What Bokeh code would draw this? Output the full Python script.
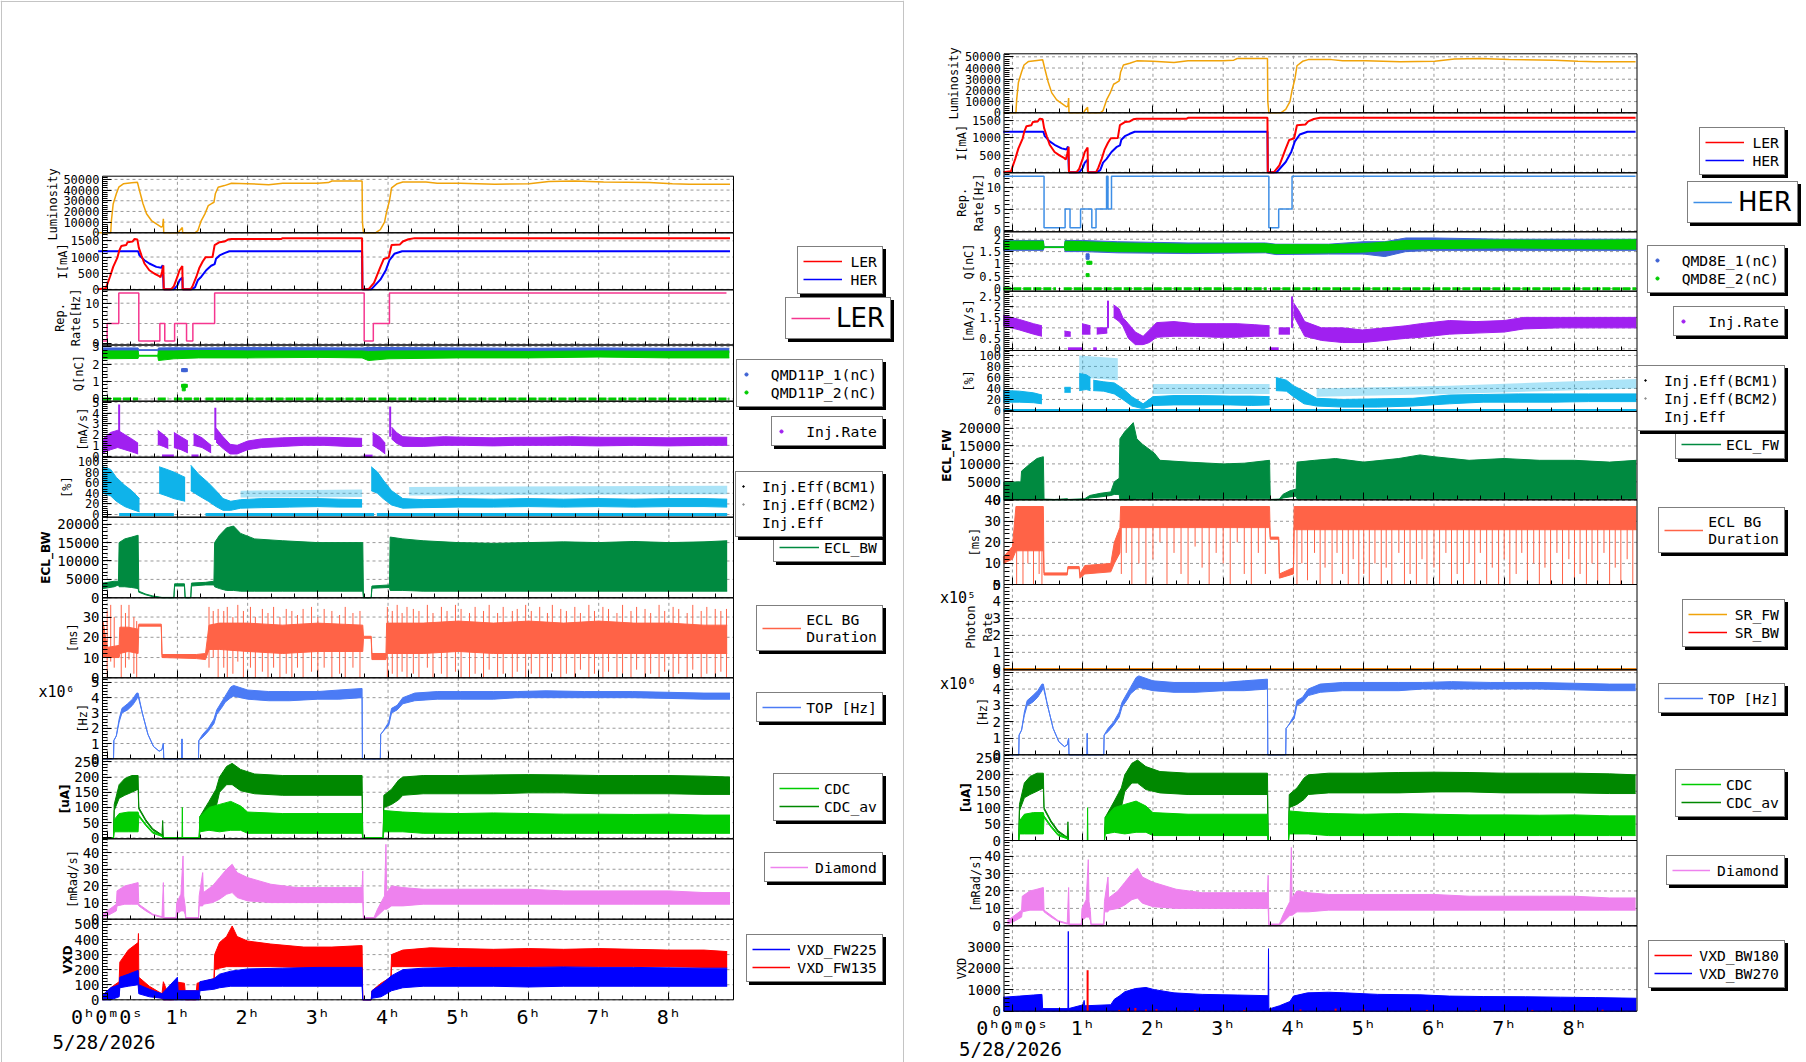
import math
from bokeh.plotting import figure
from bokeh.models import (Range1d, FixedTicker, CustomJSTickFormatter, Legend, LegendItem, Label, LinearAxis)
from bokeh.embed import file_html
from bokeh.resources import INLINE

# ------------------------------------------------------------------ data
# time in hours since 0h0m0s, 5/28/2026
DATE = "5/28/2026"
X_LEFT = (-0.067, 8.92)
X_RIGHT = (-0.12, 8.89)

# Luminosity (t, value)
LUM = [(-0.13, 0), (0.05, 0), (0.06, 11500), (0.085, 27000), (0.13, 36500), (0.165, 42700), (0.23, 45900),
       (0.35, 46800), (0.43, 47400), (0.46, 39600), (0.51, 27200), (0.56, 17800), (0.63, 11500), (0.70, 8400),
       (0.77, 5300), (0.79, 6000), (0.80, 13100), (0.805, 0), (1.01, 0), (1.03, 2000), (1.07, 5000), (1.075, 0),
       (1.25, 0), (1.29, 2000), (1.34, 11500), (1.39, 17500), (1.44, 25500), (1.48, 27000), (1.52, 28600),
       (1.54, 36500), (1.58, 42700), (1.67, 44200), (1.77, 46400), (2.0, 46000), (2.3, 45000), (2.5, 46500),
       (3.0, 46500), (3.15, 47000), (3.2, 48500), (3.63, 48500), (3.635, 10000), (3.65, 0), (3.82, 0),
       (3.89, 3000), (3.95, 10000), (3.98, 20000), (4.02, 30000), (4.05, 42000), (4.13, 46000), (4.21, 47500),
       (4.54, 47500), (4.70, 46500), (5.03, 46500), (5.52, 45500), (6.01, 46000), (6.29, 48000), (6.66, 48500),
       (7.07, 47500), (7.72, 47000), (8.05, 46000), (8.29, 45500), (8.87, 45500)]

# Beam currents I[mA] (t, value)
LER_I = [(-0.13, 0), (-0.02, 30), (0.04, 390), (0.085, 695), (0.145, 980), (0.17, 1190), (0.20, 1340),
         (0.27, 1370), (0.29, 1460), (0.36, 1480), (0.39, 1560), (0.43, 1540), (0.45, 1290), (0.49, 1040),
         (0.53, 800), (0.60, 590), (0.67, 490), (0.74, 410), (0.76, 370), (0.78, 540), (0.80, 740), (0.805, 0),
         (0.91, 0), (0.95, 100), (1.0, 390), (1.03, 590), (1.07, 720), (1.075, 0), (1.19, 0), (1.22, 120),
         (1.27, 390), (1.31, 650), (1.36, 860), (1.40, 990), (1.50, 1000), (1.53, 1370), (1.60, 1460),
         (1.67, 1480), (1.72, 1540), (1.77, 1560), (2.48, 1560), (2.5, 1585), (3.63, 1585), (3.635, 0),
         (3.72, 0), (3.80, 200), (3.89, 690), (3.94, 940), (4.01, 990), (4.05, 1370), (4.17, 1390),
         (4.21, 1480), (4.29, 1550), (4.38, 1585), (8.87, 1585)]
HER_I = [(-0.13, 1180), (0.44, 1180), (0.46, 1050), (0.53, 900), (0.60, 800), (0.70, 695), (0.77, 665),
         (0.79, 750), (0.805, 0), (0.95, 0), (1.0, 120), (1.03, 280), (1.07, 370), (1.075, 0), (1.20, 0),
         (1.25, 60), (1.29, 280), (1.34, 390), (1.41, 590), (1.48, 730), (1.53, 780), (1.55, 945),
         (1.60, 1050), (1.67, 1120), (1.74, 1180), (3.63, 1180), (3.635, 0), (3.76, 0), (3.89, 300),
         (3.97, 600), (4.02, 900), (4.09, 1100), (4.20, 1180), (8.87, 1180)]

# Injection repetition rate [Hz] (t, value), steps
REP_LER = [(-0.07, 0.7), (0.0, 5), (0.165, 12.5), (0.45, 0.7), (0.75, 5), (0.82, 0.7), (0.96, 5), (1.13, 0.7),
           (1.22, 5), (1.53, 12.5), (3.66, 0.7), (3.79, 5), (4.02, 12.5), (8.82, 12.5)]
REP_HER = [(-0.13, 12.5), (0.45, 0.7), (0.75, 5), (0.82, 0.7), (0.97, 5), (1.13, 0.7), (1.19, 5), (1.34, 12.5),
           (1.36, 5), (1.41, 12.5), (3.65, 0.7), (3.79, 5), (3.98, 12.5), (8.87, 12.5)]

# Bunch charge Q[nC] bands (t, low, high)
Q11P_1 = [(-0.06, 2.68, 2.92), (0.44, 2.70, 2.92), (0.45, 2.78, 2.82), (0.72, 2.78, 2.82), (0.73, 2.68, 2.92),
          (0.95, 2.70, 2.93), (1.3, 2.70, 2.92), (2.0, 2.72, 2.94), (3.0, 2.70, 2.93), (3.63, 2.70, 2.92),
          (3.72, 2.72, 2.95), (4.5, 2.70, 2.93), (6.0, 2.68, 2.90), (7.0, 2.70, 2.92), (8.0, 2.68, 2.90),
          (8.86, 2.65, 2.90)]
Q11P_2 = [(-0.06, 2.30, 2.75), (0.44, 2.32, 2.75), (0.45, 2.45, 2.50), (0.72, 2.45, 2.50), (0.73, 2.20, 2.75),
          (0.95, 2.30, 2.75), (1.3, 2.35, 2.78), (2.0, 2.35, 2.75), (3.0, 2.38, 2.75), (3.63, 2.35, 2.75),
          (3.72, 2.20, 2.72), (4.0, 2.30, 2.75), (5.0, 2.35, 2.75), (6.0, 2.35, 2.72), (7.0, 2.40, 2.75),
          (8.0, 2.35, 2.72), (8.86, 2.35, 2.75)]
Q11P_2_ZERO = [(-0.06, 0.44), (0.72, 0.87), (0.95, 1.31), (1.40, 3.64), (3.72, 8.86)]
Q11P_1_PTS = [(1.08, 1.65), (1.10, 1.65), (1.12, 1.65)]
Q11P_2_PTS = [(1.08, 0.75), (1.10, 0.75), (1.12, 0.75), (1.09, 0.55)]

Q8E_1 = [(-0.13, 1.55, 1.95), (0.44, 1.55, 1.95), (0.45, 1.66, 1.70), (0.74, 1.66, 1.70), (0.75, 1.50, 1.95),
         (1.0, 1.50, 1.95), (1.5, 1.45, 1.90), (2.5, 1.42, 1.85), (3.6, 1.45, 1.85), (3.75, 1.38, 1.80),
         (4.5, 1.40, 1.80), (5.0, 1.40, 1.90), (5.3, 1.30, 1.90), (5.6, 1.50, 2.05), (6.0, 1.55, 2.05),
         (7.0, 1.55, 2.00), (8.0, 1.55, 2.00), (8.88, 1.55, 2.00)]
Q8E_2 = [(-0.13, 1.60, 1.92), (0.44, 1.60, 1.92), (0.45, 1.67, 1.69), (0.74, 1.67, 1.69), (0.75, 1.55, 1.92),
         (1.0, 1.55, 1.90), (1.5, 1.50, 1.85), (2.5, 1.47, 1.80), (3.6, 1.48, 1.82), (3.75, 1.42, 1.78),
         (4.5, 1.45, 1.78), (5.0, 1.48, 1.82), (5.6, 1.60, 1.95), (6.0, 1.62, 1.95), (7.0, 1.65, 1.97),
         (8.0, 1.62, 1.95), (8.88, 1.60, 1.98)]
Q8E_2_ZERO = [(-0.13, 0.62), (0.73, 3.62), (3.70, 8.88)]
Q8E_1_PTS = [(1.07, 1.25), (1.07, 1.35)]
Q8E_2_PTS = [(1.08, 1.05), (1.11, 1.05), (1.07, 0.55)]

# Injection rate [mA/s] bands (t, low, high), None = gap
IR_LER = [(-0.06, 0.3, 1.6), (0.05, 0.6, 2.2), (0.15, 0.8, 2.4), (0.25, 0.6, 2.0), (0.35, 0.4, 1.6),
          (0.44, 0.2, 1.2), None,
          (0.72, 1.1, 2.4), (0.80, 0.9, 2.0), (0.87, 0.7, 1.6), None,
          (0.95, 0.8, 2.2), (1.05, 0.6, 1.8), (1.15, 0.3, 1.4), None,
          (1.23, 1.0, 2.1), (1.35, 0.8, 1.7), (1.48, 0.3, 1.0), None,
          (1.55, 1.3, 2.6), (1.65, 0.7, 1.8), (1.75, 0.2, 1.1), (1.85, 0.2, 1.0), (2.0, 0.6, 1.4),
          (2.2, 0.8, 1.6), (2.5, 0.9, 1.7), (2.8, 1.0, 1.75), (3.1, 1.0, 1.75), (3.4, 0.9, 1.7),
          (3.63, 0.9, 1.65), None,
          (3.78, 1.0, 2.2), (3.88, 0.6, 1.8), (3.96, 0.2, 1.2), None,
          (4.05, 1.6, 2.7), (4.12, 1.2, 2.2), (4.21, 0.9, 1.8), (4.5, 0.9, 1.7), (4.8, 1.0, 1.8),
          (5.1, 1.0, 1.75), (5.5, 0.95, 1.7), (5.8, 1.0, 1.75), (6.2, 1.0, 1.75), (6.6, 1.0, 1.8),
          (7.0, 0.95, 1.75), (7.5, 1.0, 1.75), (8.0, 0.95, 1.7), (8.5, 1.0, 1.75), (8.83, 1.0, 1.75)]
IR_LER_SPIKES = [(0.17, 1.5, 4.8), (1.54, 1.5, 4.5), (4.03, 1.8, 4.6)]
IR_LER_ZERO = [(0.78, 0.95), (1.20, 1.30), (3.65, 3.78)]

IR_HER = [(-0.13, 1.1, 1.6), (0.1, 0.9, 1.4), (0.3, 0.7, 1.2), (0.42, 0.6, 1.1), None,
          (0.74, 0.6, 0.85), (0.83, 0.6, 0.8), None,
          (0.99, 0.7, 1.2), (1.11, 0.7, 1.1), None,
          (1.20, 0.7, 1.0), (1.35, 0.75, 1.0), None,
          (1.44, 1.5, 2.1), (1.52, 1.3, 1.9), (1.57, 1.1, 1.5), (1.65, 0.5, 1.2), (1.75, 0.2, 0.8),
          (1.86, 0.2, 0.6), (1.95, 0.3, 0.9), (2.05, 0.55, 1.25), (2.3, 0.6, 1.3), (2.6, 0.6, 1.2),
          (2.9, 0.55, 1.2), (3.2, 0.55, 1.2), (3.45, 0.6, 1.15), (3.66, 0.6, 1.1), None,
          (3.79, 0.7, 1.0), (3.95, 0.7, 1.0), None,
          (4.0, 1.6, 2.2), (4.08, 1.1, 1.8), (4.16, 0.6, 1.3), (4.4, 0.4, 1.0), (4.7, 0.3, 1.0),
          (4.98, 0.3, 0.9), (5.3, 0.4, 1.0), (5.6, 0.5, 1.1), (5.81, 0.55, 1.2), (6.22, 0.7, 1.35),
          (6.6, 0.75, 1.3), (7.0, 0.8, 1.35), (7.28, 0.95, 1.5), (7.8, 1.0, 1.5), (8.3, 1.0, 1.5),
          (8.88, 1.0, 1.5)]
IR_HER_SPIKES = [(1.36, 1.0, 2.3), (3.98, 1.0, 2.5)]
IR_HER_ZERO = [(0.79, 0.99), (1.15, 1.20), (3.66, 3.79)]

# Injection efficiency [%] bands (t, low, high)
IE_LER = [(-0.06, 40, 90), (0.05, 35, 85), (0.13, 25, 70), (0.25, 15, 55), (0.35, 10, 45), (0.46, 5, 30), None,
          (0.74, 40, 90), (0.85, 35, 85), (0.95, 30, 80), (1.11, 25, 70), None,
          (1.19, 45, 93), (1.31, 35, 75), (1.44, 25, 60), (1.55, 15, 45), (1.65, 8, 30), (1.76, 8, 25),
          (1.9, 12, 28), (2.2, 13, 30), (2.6, 14, 30), (3.0, 15, 30), (3.3, 14, 29), (3.63, 14, 28), None,
          (3.76, 45, 90), (3.85, 40, 80), (3.93, 30, 65), (4.05, 18, 45), (4.21, 12, 30), (4.5, 13, 28),
          (5.0, 14, 30), (5.5, 14, 29), (6.0, 15, 30), (6.5, 14, 29), (7.0, 15, 30), (7.5, 14, 29),
          (8.0, 15, 30), (8.5, 15, 30), (8.83, 14, 29)]
IE_LER_SPARSE = [(1.9, 32, 45), (3.63, 33, 47), None, (4.3, 36, 52), (8.83, 38, 54)]
IE_LER_ZERO = [(0.17, 0.95), (1.40, 3.80), (3.84, 8.83)]

IE_HER = [(-0.13, 15, 36), (0.1, 15, 35), (0.3, 14, 32), (0.42, 12, 28), None,
          (0.74, 33, 42), (0.83, 33, 42), None,
          (0.95, 36, 67), (1.05, 38, 65), (1.11, 36, 60), None,
          (1.15, 36, 55), (1.3, 35, 52), (1.45, 30, 50), (1.57, 20, 40), (1.7, 8, 25), (1.86, 3, 12),
          (2.0, 9, 25), (2.3, 10, 27), (2.7, 10, 27), (3.1, 10, 26), (3.4, 9, 26), (3.66, 10, 25), None,
          (3.75, 36, 60), (3.9, 35, 55), (4.0, 25, 45), (4.15, 12, 35), (4.33, 8, 22), (4.7, 6, 20),
          (5.2, 6, 21), (5.7, 8, 22), (6.22, 12, 28), (6.7, 15, 29), (7.2, 15, 30), (7.7, 15, 30),
          (8.2, 16, 30), (8.88, 16, 30)]
IE_HER_SPARSE = [(0.95, 60, 100), (1.5, 55, 95), None, (2.0, 30, 48), (3.66, 30, 48), None,
                 (4.33, 25, 40), (6.22, 30, 45), (8.88, 40, 57)]
IE_HER_ZERO = [(-0.13, 8.88)]

# ECL background (t, low, high)
ECL_BW = [(-0.06, 2500, 4000), (0.10, 3000, 4500), (0.16, 3500, 4500), (0.17, 3000, 15000), (0.25, 3000, 16000),
          (0.35, 2800, 16500), (0.44, 2500, 17000), (0.45, 1500, 1800), (0.55, 800, 1000), (0.65, 300, 500),
          (0.78, 0, 100), (0.95, 0, 100), (0.96, 3200, 3800), (1.10, 3200, 3800), (1.11, 0, 100), (1.19, 0, 100),
          (1.20, 3200, 4000), (1.40, 3500, 4200), (1.52, 3500, 4500), (1.53, 3000, 15000), (1.60, 2500, 17000),
          (1.70, 2000, 19000), (1.80, 2000, 19500), (1.90, 1800, 17500), (2.10, 1800, 16000), (2.50, 1800, 15500),
          (3.00, 1800, 15000), (3.64, 1800, 15000), (3.65, 0, 50), (3.76, 0, 50), (3.77, 2600, 3200),
          (4.02, 2800, 3500), (4.03, 2000, 16500), (4.21, 2000, 16000), (4.50, 1800, 15500), (5.00, 1800, 15000),
          (5.50, 1800, 14800), (6.00, 1800, 15000), (6.50, 1800, 15200), (7.00, 1800, 15000), (7.50, 1800, 15300),
          (8.00, 1800, 15000), (8.50, 1800, 15200), (8.83, 1800, 15500)]
ECL_FW = [(-0.13, 0, 4900), (0.12, 0, 5000), (0.13, 0, 8000), (0.25, 0, 10000), (0.35, 0, 11500), (0.44, 0, 12000),
          (0.45, 0, 200), (0.60, 0, 100), (0.78, 0, 300), (0.80, 0, 100), (1.03, 0, 300), (1.10, 500, 1200),
          (1.25, 800, 1800), (1.40, 1200, 2200), (1.45, 1500, 5000), (1.52, 1500, 6000), (1.53, 0, 17000),
          (1.60, 0, 19000), (1.65, 0, 20000), (1.72, 0, 21500), (1.77, 300, 17000), (1.85, 300, 15500),
          (2.02, 400, 13000), (2.10, 400, 11000), (2.50, 400, 10500), (3.00, 400, 10000), (3.30, 400, 10200),
          (3.66, 400, 11000), (3.67, 0, 100), (3.80, 0, 200), (3.85, 500, 1500), (3.95, 800, 2500),
          (4.04, 1000, 3000), (4.05, 300, 10500), (4.30, 300, 11000), (4.60, 300, 11500), (5.00, 300, 10500),
          (5.50, 300, 11500), (5.80, 300, 12500), (6.00, 300, 12000), (6.50, 300, 11000), (7.00, 300, 11500),
          (7.50, 300, 11000), (8.00, 300, 11000), (8.50, 300, 10500), (8.88, 300, 11000)]

# ECL BG duration [ms]: dense core (t, low, high) and single excursions (t, low, high)
DUR_LER = [(-0.06, 10, 28), (0.0, 10, 15), (0.17, 10, 16), (0.18, 12, 25), (0.30, 13, 25), (0.44, 12, 24),
           (0.45, 25.5, 26.5), (0.77, 25.5, 26.5), (0.78, 10, 11.5), (1.27, 9.5, 11.5), (1.40, 9, 12),
           (1.45, 14, 26), (1.60, 14, 27), (2.0, 13, 27), (2.5, 12, 26), (3.0, 13, 27), (3.64, 13, 26),
           (3.65, 19.5, 20.5), (3.76, 19.5, 20.5), (3.77, 9, 12), (3.97, 9, 12), (3.98, 12, 27), (4.5, 12, 27),
           (5.0, 13, 28), (5.5, 12, 27), (6.0, 12, 28), (6.5, 12, 27), (7.0, 12, 28), (7.5, 12, 27),
           (8.0, 12, 27), (8.5, 12, 26), (8.83, 12, 26)]
DUR_LER_SPIKES = [(0.0, 0, 33), (0.05, 8, 36), (0.1, 5, 30), (0.2, 0, 36), (0.26, 5, 32), (0.31, 9, 36),
                  (0.38, 2, 30), (0.42, 0, 28), (1.45, 5, 35), (1.51, 10, 33), (1.58, 0, 34), (1.66, 5, 33),
                  (1.71, 0, 35), (1.79, 2, 30), (1.86, 8, 36), (1.94, 0, 33), (2.04, 5, 35), (2.11, 0, 30),
                  (2.21, 3, 34), (2.29, 0, 32), (2.37, 5, 35), (2.46, 0, 30), (2.55, 2, 34), (2.63, 0, 33),
                  (2.71, 5, 31), (2.79, 0, 34), (2.91, 3, 35), (3.0, 0, 30), (3.09, 5, 34), (3.2, 0, 33),
                  (3.31, 2, 31), (3.39, 0, 35), (3.5, 5, 32), (3.6, 0, 33), (3.99, 0, 35), (4.06, 2, 33),
                  (4.13, 0, 36), (4.2, 3, 32), (4.27, 0, 35), (4.36, 2, 34), (4.44, 0, 33), (4.56, 5, 36),
                  (4.64, 0, 32), (4.76, 2, 35), (4.84, 0, 33), (4.96, 3, 36), (5.04, 0, 34), (5.16, 0, 32),
                  (5.24, 2, 35), (5.36, 0, 33), (5.44, 4, 36), (5.56, 0, 32), (5.64, 2, 35), (5.77, 0, 33),
                  (5.84, 3, 34), (5.96, 0, 36), (6.04, 2, 33), (6.16, 0, 35), (6.27, 0, 32), (6.34, 3, 36),
                  (6.46, 0, 34), (6.54, 2, 33), (6.66, 0, 35), (6.74, 4, 32), (6.86, 0, 36), (6.94, 2, 33),
                  (7.06, 0, 35), (7.14, 3, 34), (7.26, 0, 32), (7.34, 2, 36), (7.46, 0, 33), (7.54, 4, 35),
                  (7.66, 0, 34), (7.74, 2, 32), (7.86, 0, 36), (7.94, 3, 33), (8.06, 0, 35), (8.14, 2, 34),
                  (8.26, 0, 32), (8.34, 4, 36), (8.46, 0, 33), (8.54, 2, 35), (8.66, 0, 34), (8.74, 3, 33),
                  (8.82, 0, 34)]
DUR_HER = [(-0.13, 10, 13), (0.0, 12, 18), (0.05, 16, 37), (0.44, 16, 37), (0.45, 4.5, 5.5), (0.78, 4.5, 5.5),
           (0.79, 7.5, 8.5), (0.95, 7.5, 8.5), (0.96, 3, 5), (1.03, 5, 9), (1.40, 6, 10), (1.45, 10, 20),
           (1.53, 15, 27), (1.54, 27, 37), (3.66, 27, 37), (3.67, 21.5, 22.5), (3.79, 21.5, 22.5), (3.80, 3, 5),
           (4.0, 5, 8), (4.01, 26, 37), (8.88, 26, 37)]
DUR_HER_SPIKES = [(0.06, 0, 37), (0.15, 0, 37), (0.22, 10, 37), (0.3, 0, 37), (0.38, 5, 37), (0.42, 0, 37),
                  (1.55, 5, 37), (1.62, 15, 37), (1.7, 0, 37), (1.8, 10, 37), (1.9, 0, 37), (2.0, 12, 37),
                  (2.1, 20, 37), (2.2, 0, 37), (2.3, 15, 37), (2.4, 5, 37), (2.5, 0, 37), (2.6, 18, 37),
                  (2.7, 8, 37), (2.8, 0, 37), (2.9, 15, 37), (3.0, 10, 37), (3.1, 0, 37), (3.2, 20, 37),
                  (3.3, 5, 37), (3.4, 0, 37), (3.5, 15, 37), (3.6, 5, 37), (4.05, 0, 37), (4.12, 10, 37),
                  (4.2, 2, 37), (4.3, 15, 37), (4.38, 0, 37), (4.45, 8, 37), (4.55, 0, 37), (4.62, 15, 37),
                  (4.7, 5, 37), (4.78, 0, 37), (4.85, 12, 37), (4.93, 0, 37), (5.0, 5, 37), (5.08, 0, 37),
                  (5.16, 10, 37), (5.25, 0, 37), (5.32, 8, 37), (5.4, 0, 37), (5.5, 15, 37), (5.58, 0, 37),
                  (5.66, 5, 37), (5.75, 0, 37), (5.83, 12, 37), (5.9, 0, 37), (6.0, 8, 37), (6.08, 0, 37),
                  (6.17, 15, 37), (6.25, 0, 37), (6.33, 5, 37), (6.42, 0, 37), (6.5, 10, 37), (6.58, 0, 37),
                  (6.66, 15, 37), (6.75, 0, 37), (6.83, 8, 37), (6.92, 0, 37), (7.0, 12, 37), (7.08, 0, 37),
                  (7.17, 5, 37), (7.25, 15, 37), (7.33, 0, 37), (7.42, 10, 37), (7.5, 0, 37), (7.58, 8, 37),
                  (7.66, 0, 37), (7.75, 15, 37), (7.83, 0, 37), (7.92, 12, 37), (8.0, 0, 37), (8.08, 5, 37),
                  (8.17, 0, 37), (8.25, 10, 37), (8.33, 0, 37), (8.42, 15, 37), (8.5, 0, 37), (8.58, 8, 37),
                  (8.66, 0, 37), (8.75, 12, 37), (8.83, 0, 37)]

# SR photon rate (x1e5)
SR_FW = [(-0.13, 0), (8.88, 0)]
SR_BW = [(-0.13, 0), (8.88, 0)]

# TOP rate (x1e6 Hz) band (t, low, high)
TOP = [(-0.07, 0, 0), (0.09, 0, 0), (0.095, 1.2, 1.2), (0.13, 1.5, 1.5), (0.17, 2.4, 2.6), (0.21, 3.0, 3.3),
       (0.29, 3.2, 3.6), (0.36, 3.5, 3.9), (0.42, 3.9, 4.3), (0.44, 4.1, 4.3), (0.50, 3.0, 3.0), (0.58, 1.6, 1.6),
       (0.66, 0.8, 0.8), (0.74, 0.5, 0.5), (0.78, 0.6, 0.6), (0.80, 1.0, 1.0), (0.805, 0, 0), (1.06, 0, 0),
       (1.065, 1.3, 1.3), (1.07, 0, 0), (1.30, 0, 0), (1.305, 1.2, 1.2), (1.36, 1.4, 1.6), (1.44, 1.8, 2.0),
       (1.52, 2.3, 2.6), (1.56, 2.9, 3.2), (1.64, 3.4, 3.8), (1.68, 3.7, 4.1), (1.76, 4.0, 4.7),
       (1.80, 4.1, 4.8), (2.0, 3.9, 4.5), (2.3, 3.8, 4.4), (2.6, 3.8, 4.4), (3.0, 3.9, 4.4), (3.3, 3.9, 4.5),
       (3.63, 4.0, 4.6), (3.635, 0, 0), (3.89, 0, 0), (3.895, 1.6, 1.6), (3.93, 1.8, 1.8), (4.01, 2.2, 2.4),
       (4.05, 3.0, 3.3), (4.13, 3.2, 3.5), (4.21, 3.6, 4.0), (4.38, 3.8, 4.3), (4.7, 3.9, 4.4),
       (5.03, 3.9, 4.4), (5.5, 3.9, 4.4), (5.84, 4.0, 4.4), (6.25, 4.0, 4.45), (6.8, 4.0, 4.4),
       (7.48, 4.0, 4.4), (8.0, 3.95, 4.35), (8.5, 3.9, 4.3), (8.87, 3.9, 4.3)]

# CDC current [uA] bands (t, low, high)
CDC_AV = [(-0.07, 0, 0), (0.09, 0, 0), (0.10, 90, 110), (0.17, 130, 175), (0.25, 140, 195), (0.35, 150, 205),
          (0.44, 160, 205), (0.45, 95, 100), (0.55, 55, 60), (0.65, 25, 30), (0.78, 8, 10), (0.79, 0, 57),
          (0.80, 0, 0), (1.31, 0, 0), (1.32, 40, 70), (1.45, 60, 120), (1.55, 100, 160), (1.60, 150, 200),
          (1.70, 175, 235), (1.78, 175, 245), (1.90, 155, 225), (2.10, 145, 210), (2.50, 140, 205),
          (3.00, 140, 205), (3.63, 140, 205), (3.64, 0, 0), (3.93, 0, 0), (3.94, 100, 140), (4.05, 110, 160),
          (4.15, 125, 190), (4.21, 140, 200), (4.50, 145, 205), (5.00, 145, 205), (5.50, 145, 207),
          (6.00, 148, 208), (6.50, 148, 207), (7.00, 145, 205), (7.50, 145, 205), (8.00, 145, 205),
          (8.50, 143, 203), (8.87, 143, 200)]
CDC = [(-0.07, 0, 0), (0.09, 0, 0), (0.10, 20, 60), (0.17, 20, 80), (0.30, 20, 85), (0.44, 20, 85),
       (0.45, 70, 75), (0.55, 40, 45), (0.65, 15, 20), (0.78, 5, 8), (0.80, 0, 0), (1.065, 0, 0), (1.07, 0, 100),
       (1.075, 0, 0), (1.31, 0, 0), (1.32, 20, 70), (1.45, 25, 100), (1.60, 20, 110), (1.76, 25, 120),
       (1.90, 25, 105), (2.00, 15, 85), (2.50, 15, 80), (3.00, 15, 80), (3.63, 15, 80), (3.64, 0, 0),
       (3.93, 0, 0), (3.94, 20, 90), (4.21, 20, 85), (4.50, 15, 82), (5.00, 15, 80), (5.50, 15, 82),
       (6.00, 15, 80), (6.50, 15, 78), (7.00, 15, 78), (7.50, 15, 77), (8.00, 15, 78), (8.50, 15, 75),
       (8.87, 15, 75)]

# Diamond dose rate [mRad/s] band (t, low, high)
DIAMOND = [(-0.07, 1, 3), (0.0, 2, 5), (0.13, 5, 9), (0.14, 8, 17), (0.25, 9, 20), (0.35, 9, 21), (0.44, 9, 22),
           (0.45, 8, 9), (0.55, 5, 6), (0.65, 2.5, 3), (0.78, 1, 1.5), (0.80, 1, 22), (0.81, 0, 1), (0.98, 0, 1),
           (0.99, 3, 10), (1.05, 5, 15), (1.08, 5, 38), (1.09, 5, 14), (1.11, 3, 8), (1.12, 0, 1), (1.30, 0, 1),
           (1.31, 8, 14), (1.36, 8, 28), (1.37, 9, 16), (1.50, 10, 20), (1.60, 12, 25), (1.70, 15, 30),
           (1.78, 16, 33), (1.85, 13, 28), (2.00, 11, 25), (2.33, 10, 21), (2.70, 10, 19), (3.20, 10, 19),
           (3.63, 10, 19), (3.64, 10, 29), (3.65, 0, 1), (3.80, 0, 1), (3.85, 2, 6), (3.95, 6, 14),
           (3.97, 6, 45), (3.98, 6, 16), (4.05, 8, 20), (4.21, 8, 19), (4.50, 9, 18), (5.00, 9, 18),
           (5.50, 9, 18), (6.00, 9, 18), (6.50, 9, 17), (7.00, 9, 17), (7.50, 9, 17), (8.00, 9, 17),
           (8.50, 9, 16), (8.87, 9, 16)]

# VXD dose (t, low, high)
VXD_FW135 = [(-0.07, 0, 20), (0.05, 10, 80), (0.17, 30, 120), (0.18, 130, 250), (0.30, 140, 330), (0.44, 150, 380),
             (0.445, 150, 440), (0.45, 60, 150), (0.60, 30, 90), (0.78, 10, 40), (0.80, 0, 120), (0.85, 0, 60),
             (0.95, 0, 30), (0.96, 40, 120), (1.10, 40, 110), (1.11, 0, 60), (1.27, 0, 60), (1.28, 60, 110),
             (1.52, 80, 140), (1.53, 200, 300), (1.60, 210, 380), (1.70, 220, 420), (1.78, 220, 490),
             (1.85, 220, 420), (2.00, 220, 390), (2.33, 220, 370), (2.80, 215, 350), (3.20, 215, 350),
             (3.63, 215, 360), (3.64, 0, 0), (3.76, 0, 0), (3.77, 20, 60), (3.90, 50, 110), (4.04, 90, 150),
             (4.05, 220, 300), (4.21, 220, 330), (4.60, 220, 345), (5.00, 220, 340), (5.50, 215, 335),
             (6.00, 220, 340), (6.50, 220, 335), (7.00, 220, 340), (7.50, 220, 335), (8.00, 220, 330),
             (8.50, 215, 330), (8.83, 215, 320)]
VXD_FW225 = [(-0.07, 0, 30), (0.05, 0, 80), (0.17, 20, 100), (0.18, 80, 150), (0.30, 90, 170), (0.44, 100, 195),
             (0.45, 40, 100), (0.60, 20, 70), (0.78, 10, 40), (0.80, 0, 50), (1.00, 0, 150), (1.01, 0, 60),
             (1.31, 0, 60), (1.32, 60, 120), (1.52, 70, 140), (1.60, 80, 170), (1.76, 90, 190), (2.00, 90, 205),
             (2.50, 90, 210), (3.00, 90, 215), (3.63, 90, 215), (3.64, 0, 0), (3.76, 0, 0), (3.77, 10, 60),
             (3.90, 20, 100), (4.05, 60, 160), (4.21, 80, 200), (4.50, 90, 210), (5.00, 90, 215), (5.50, 90, 215),
             (6.00, 85, 215), (6.50, 90, 218), (7.00, 90, 215), (7.50, 90, 215), (8.00, 90, 212), (8.50, 90, 210),
             (8.83, 90, 210)]
VXD_BW270 = [(-0.13, 0, 650), (0.10, 0, 700), (0.30, 0, 750), (0.42, 0, 780), (0.43, 0, 120), (0.79, 0, 120),
             (0.795, 0, 3700), (0.80, 0, 120), (1.01, 0, 300), (1.02, 0, 500), (1.03, 0, 250), (1.40, 0, 300),
             (1.45, 0, 550), (1.52, 0, 700), (1.60, 0, 900), (1.75, 0, 1050), (1.90, 0, 1100), (2.02, 0, 1000),
             (2.30, 0, 850), (2.70, 0, 780), (3.20, 0, 750), (3.64, 0, 720), (3.645, 0, 2900), (3.65, 0, 100),
             (3.80, 0, 250), (3.95, 0, 450), (4.00, 0, 700), (4.20, 0, 850), (4.50, 0, 880), (4.74, 0, 850),
             (5.20, 0, 780), (5.80, 0, 760), (6.22, 0, 700), (6.70, 0, 680), (7.30, 0, 670), (7.80, 0, 650),
             (8.30, 0, 630), (8.88, 0, 600)]
VXD_BW180 = [(1.07, 0, 1900), (1.52, 0, 60), (1.65, 0, 120), (1.75, 0, 150), (1.90, 0, 80), (2.05, 0, 100),
             (2.60, 0, 60), (3.30, 0, 60), (4.10, 0, 80), (4.60, 0, 120), (5.00, 0, 100), (5.90, 0, 60),
             (6.60, 0, 50), (7.40, 0, 60), (8.00, 0, 60), (8.40, 0, 70)]

# ------------------------------------------------------------------ style / layout
MONO = "DejaVu Sans Mono"
SANS = "DejaVu Sans"
NARROW = "Liberation Sans Narrow, DejaVu Sans"
ORANGE = "#f0a30a"
RED = "#ff0000"
BLUE = "#0000ff"
PINK = "#f5368f"
HERREP = "#3d8ee6"
QBLUE = "#3e62d4"
QGREEN = "#00cc00"
PURPLE = "#a020f0"
CYAN = "#0fb3ea"
ECLG = "#008a40"
TOMATO = "#ff6347"
TOPB = "#4b7bf5"
CDCL = "#00cc00"
CDCD = "#008800"
VIOLET = "#ee82ee"

W, H = 1806, 1062
COL_PX = {"L": (102.0, 733.0), "R": (1003.5, 1636.5)}
COL_T = {"L": X_LEFT, "R": X_RIGHT}
EDGES = {"L": [175.7, 232.3, 289.3, 344.5, 400.7, 456.7, 516.7, 597.3, 677.3, 758.3, 838.3, 918.7, 999.3],
         "R": [53.3, 112.3, 172.3, 231.3, 290.7, 350.0, 411.0, 499.3, 584.0, 669.3, 754.3, 840.0, 925.3, 1010.7]}

SMALL = "12px"
SPEC = {
    "L": [dict(yr=(0, 53000), step=10000, title="Luminosity", tdx=-50, ts=SMALL),
          dict(yr=(-15, 1750), step=500, title="I[mA]", tdx=-40, ts=SMALL),
          dict(yr=(-0.3, 13.3), step=5, title="Rep.\nRate[Hz]", tdx=-34.5, ts=SMALL),
          dict(yr=(-0.13, 3.09), step=1, title="Q[nC]", tdx=-24, ts=SMALL),
          dict(yr=(-0.1, 5.1), step=1, title="[mA/s]", tdx=-20, ts=SMALL),
          dict(yr=(-5, 108), step=20, title="[%]", tdx=-36, ts=SMALL),
          dict(yr=(0, 21900), step=5000, title="ECL_BW", tdx=-57, bold=True),
          dict(yr=(0, 39.5), step=10, title="[ms]", tdx=-30),
          dict(yr=(0, 5.3), step=1, title="[Hz]", tdx=-20),
          dict(yr=(-3, 260), step=50, title="[uA]", tdx=-38, bold=True),
          dict(yr=(0, 48.3), step=10, title="[mRad/s]", tdx=-30),
          dict(yr=(0, 535), step=100, title="VXD", tdx=-35, bold=True)],
    "R": [dict(yr=(0, 52700), step=10000, title="Luminosity", tdx=-50, ts=SMALL),
          dict(yr=(-15, 1730), step=500, title="I[mA]", tdx=-42, ts=SMALL),
          dict(yr=(-0.2, 13.3), step=5, title="Rep.\nRate[Hz]", tdx=-33.5, ts=SMALL),
          dict(yr=(-0.1, 2.3), step=0.5, title="Q[nC]", tdx=-35, ts=SMALL),
          dict(yr=(-0.08, 2.75), step=0.5, title="[mA/s]", tdx=-35, ts=SMALL),
          dict(yr=(-2, 109), step=20, title="[%]", tdx=-35, ts=SMALL),
          dict(yr=(0, 24600), step=5000, title="ECL_FW", tdx=-57, bold=True),
          dict(yr=(0, 40.2), step=10, title="[ms]", tdx=-29),
          dict(yr=(-0.03, 5), step=1, title="Photon\nRate", tdx=-24.5),
          dict(yr=(0, 5.17), step=1, title="[Hz]", tdx=-21),
          dict(yr=(0, 261), step=50, title="[uA]", tdx=-38, bold=True),
          dict(yr=(0, 49), step=10, title="[mRad/s]", tdx=-28),
          dict(yr=(0, 3960), step=1000, title="VXD", tdx=-42)],
}

YCODE = "return String(Math.round(tick*1000)/1000);"
XCODE = "const h = Math.round(tick); if (h === 0) { return '0\u02b00\u1d500\u02e2'; } return h + '\u02b0';"


def ticks_in(a, b, step):
    k0 = math.ceil(a / step - 1e-9)
    k1 = math.floor(b / step + 1e-9)
    return [round(k * step, 9) for k in range(k0, k1 + 1)]


def x_range_for(col):
    (x0, x1), (t0, t1) = COL_PX[col], COL_T[col]
    s = (t1 - t0) / (x1 - x0)
    return Range1d(t0 - x0 * s, t1 + (W - x1) * s)


def y_range_for(col, i):
    ytop, ybot = EDGES[col][i], EDGES[col][i + 1]
    a, b = SPEC[col][i]["yr"]
    lo, hi = H - ybot, H - ytop
    s = (b - a) / (hi - lo)
    return Range1d(a - lo * s, b + (H - hi) * s)


p = figure(width=W, height=H, x_range=Range1d(0, 1), y_range=Range1d(0, 1), x_axis_type=None, y_axis_type=None,
           min_border=0, toolbar_location=None, output_backend="svg", outline_line_color=None)
p.background_fill_color = "white"
p.border_fill_color = "white"

xr = {"L": x_range_for("L"), "R": x_range_for("R"), "PX": Range1d(0, W)}
yr = {"PY": Range1d(0, H)}
for c in ("L", "R"):
    for i in range(len(SPEC[c])):
        yr[f"{c}{i}"] = y_range_for(c, i)
p.extra_x_ranges = xr
p.extra_y_ranges = yr

# ROOT canvas borders
p.segment(x0=[1, 0, 903], y0=[0, H - 1, 0], x1=[1, 903, 903], y1=[H, H - 1, H], line_color="#c4c4c4",
          line_width=1, x_range_name="PX", y_range_name="PY")

YFMT = CustomJSTickFormatter(code=YCODE)
XFMT = CustomJSTickFormatter(code=XCODE)


def setup_panel(col, i):
    sp = SPEC[col][i]
    key = f"{col}{i}"
    kw = dict(x_range_name=col, y_range_name=key)
    t0, t1 = COL_T[col]
    a, b = sp["yr"]
    last = i == len(SPEC[col]) - 1
    yt = ticks_in(a, b, sp["step"])
    ym = ticks_in(a, b, sp["step"] / 5)
    xt = ticks_in(t0, t1, 1)
    xm = ticks_in(t0, t1, 1 / 3)
    # dashed grid
    p.segment(x0=[t0] * len(yt), x1=[t1] * len(yt), y0=yt, y1=yt, line_color="#9a9a9a", line_dash="3 3",
              line_width=1, **kw)
    p.segment(x0=xt, x1=xt, y0=[a] * len(xt), y1=[b] * len(xt), line_color="#9a9a9a", line_dash="3 3",
              line_width=1, **kw)
    # y axis at the panel's left edge
    ya = LinearAxis(ticker=FixedTicker(ticks=yt, minor_ticks=ym), formatter=YFMT, fixed_location=t0,
                    axis_line_color=None, major_tick_in=9, major_tick_out=0, minor_tick_in=5, minor_tick_out=0,
                    major_label_standoff=3, major_label_text_font=MONO,
                    major_label_text_font_size=sp.get("ts", "14px"), major_label_text_color="black", **kw)
    p.add_layout(ya, "left")
    # x axis at the panel's bottom edge
    xa = LinearAxis(ticker=FixedTicker(ticks=xt, minor_ticks=xm), formatter=XFMT, fixed_location=a,
                    axis_line_color=None, major_tick_in=7, major_tick_out=0, minor_tick_in=4, minor_tick_out=0,
                    major_label_text_font=MONO, major_label_text_font_size="20px",
                    major_label_standoff=5, major_label_text_color=("black" if last else None), **kw)
    p.add_layout(xa, "below")
    # axis title
    bold = sp.get("bold", False) and not (col == "R" and last)
    p.add_layout(Label(x=t0, y=(a + b) / 2, x_offset=sp["tdx"], angle=math.pi / 2, text=sp["title"],
                       text_font=(SANS if bold else MONO), text_font_style=("bold" if bold else "normal"),
                       text_font_size="12px", text_align="center", text_baseline="middle", text_color="black",
                       **kw))
    return kw


def frame(col, i):
    t0, t1 = COL_T[col]
    a, b = SPEC[col][i]["yr"]
    p.quad(left=[t0], right=[t1], bottom=[a], top=[b], fill_color=None, line_color="black", line_width=1,
           x_range_name=col, y_range_name=f"{col}{i}")


def segments(rows):
    out, cur = [], []
    for r in rows:
        if r is None:
            if cur:
                out.append(cur)
            cur = []
        else:
            cur.append(r)
    if cur:
        out.append(cur)
    return out


def band(kw, rows, color, alpha=1.0, edges=True):
    for seg in segments(rows):
        t = [r[0] for r in seg]
        lo = [r[1] for r in seg]
        hi = [r[2] for r in seg]
        p.varea(x=t, y1=lo, y2=hi, fill_color=color, fill_alpha=alpha, **kw)
        if edges:
            p.line(t, hi, line_color=color, line_width=1, line_alpha=alpha, **kw)
            p.line(t, lo, line_color=color, line_width=1, line_alpha=alpha, **kw)


def curve(kw, rows, color, lw=1.5):
    p.line([r[0] for r in rows], [r[1] for r in rows], line_color=color, line_width=lw, **kw)


def steps(kw, rows, color, lw=1.5):
    p.step([r[0] for r in rows], [r[1] for r in rows], mode="after", line_color=color, line_width=lw, **kw)


def zero_level(kw, segs, color, lw=3, dash="solid"):
    p.segment(x0=[s[0] for s in segs], y0=[0] * len(segs), x1=[s[1] for s in segs], y1=[0] * len(segs),
              line_color=color, line_width=lw, line_dash=dash, **kw)


def spikes(kw, rows, color, lw=1):
    p.segment(x0=[r[0] for r in rows], y0=[r[1] for r in rows], x1=[r[0] for r in rows], y1=[r[2] for r in rows],
              line_color=color, line_width=lw, **kw)


def dots(kw, rows, color, size=3):
    p.scatter([r[0] for r in rows], [r[1] for r in rows], marker="square", size=size, color=color, **kw)


def note(kw, x, y, dx, dy, text, size="15px"):
    p.add_layout(Label(x=x, y=y, x_offset=dx, y_offset=dy, text=text, text_font=MONO, text_font_size=size,
                       text_align="left", text_baseline="middle", text_color="black", **kw))


K = {c: [setup_panel(c, i) for i in range(len(SPEC[c]))] for c in ("L", "R")}

# ---------------- left column (LER side)
k = K["L"]
curve(k[0], LUM, ORANGE)
curve(k[1], HER_I, BLUE, 2)
curve(k[1], LER_I, RED, 2)
steps(k[2], REP_LER, PINK)
band(k[3], Q11P_1, QBLUE)
band(k[3], Q11P_2, QGREEN)
zero_level(k[3], Q11P_2_ZERO, QGREEN, 3, "8 2")
dots(k[3], Q11P_1_PTS, QBLUE)
dots(k[3], Q11P_2_PTS, QGREEN)
band(k[4], IR_LER, PURPLE)
spikes(k[4], IR_LER_SPIKES, PURPLE, 2)
zero_level(k[4], IR_LER_ZERO, PURPLE, 3)
band(k[5], IE_LER_SPARSE, CYAN, 0.35, edges=False)
band(k[5], IE_LER, CYAN)
zero_level(k[5], IE_LER_ZERO, CYAN, 3)
band(k[6], ECL_BW, ECLG)
spikes(k[7], DUR_LER_SPIKES, TOMATO, 1)
band(k[7], DUR_LER, TOMATO)
band(k[8], TOP, TOPB)
note(k[8], X_LEFT[0], 5.3, -64, -13.7, "x10\u2076")
band(k[9], CDC_AV, CDCD)
band(k[9], CDC, CDCL)
band(k[10], DIAMOND, VIOLET)
band(k[11], VXD_FW135, RED)
band(k[11], VXD_FW225, BLUE)
note(k[11], X_LEFT[0], 0, -50, -42.5, DATE, "19px")

# ---------------- right column (HER side)
k = K["R"]
curve(k[0], LUM, ORANGE)
curve(k[1], HER_I, BLUE, 2)
curve(k[1], LER_I, RED, 2)
steps(k[2], REP_HER, HERREP)
band(k[3], Q8E_1, QBLUE)
band(k[3], Q8E_2, QGREEN)
zero_level(k[3], Q8E_2_ZERO, QGREEN, 3, "8 2")
dots(k[3], Q8E_1_PTS, QBLUE)
dots(k[3], Q8E_2_PTS, QGREEN)
band(k[4], IR_HER, PURPLE)
spikes(k[4], IR_HER_SPIKES, PURPLE, 2)
zero_level(k[4], IR_HER_ZERO, PURPLE, 3)
band(k[5], IE_HER_SPARSE, CYAN, 0.35, edges=False)
band(k[5], IE_HER, CYAN)
zero_level(k[5], IE_HER_ZERO, CYAN, 3)
band(k[6], ECL_FW, ECLG)
spikes(k[7], DUR_HER_SPIKES, TOMATO, 1)
band(k[7], DUR_HER, TOMATO)
curve(k[8], SR_BW, RED, 2)
curve(k[8], SR_FW, ORANGE, 2)
note(k[8], X_RIGHT[0], 5, -64, -13, "x10\u2075")
band(k[9], TOP, TOPB)
note(k[9], X_RIGHT[0], 5.17, -64, -13.7, "x10\u2076")
band(k[10], CDC_AV, CDCD)
band(k[10], CDC, CDCL)
band(k[11], DIAMOND, VIOLET)
band(k[12], VXD_BW270, BLUE)
spikes(k[12], VXD_BW180, RED, 2)
note(k[12], X_RIGHT[0], 0, -45, -37.5, DATE, "19px")

for c in ("L", "R"):
    for i in range(len(SPEC[c])):
        frame(c, i)


# ---------------- legends (boxes with ROOT-like shadow)
def add_legend(right, box_bottom, items, gw, so, fs=14.7, font=MONO, cw=None, pad=5):
    rends = []
    for label, kind, color, w in items:
        if kind == "line":
            r = p.line(x=[-9, -8], y=[-9, -9], line_color=color, line_width=w)
        elif kind == "dot":
            r = p.scatter(x=[-9], y=[-9], marker="circle", size=w, fill_color=color, line_color=color)
        else:
            r = p.scatter(x=[-9], y=[-9], marker="circle", size=1, fill_alpha=0, line_alpha=0)
        rends.append((label, r))
    nchar = max(len(s) for lab, _ in rends for s in lab.split("\n"))
    tw = nchar * (cw if cw else 0.602 * fs)
    width = 2 * pad + gw + so + tw
    x = right - width
    y = H - box_bottom
    common = dict(glyph_width=gw, glyph_height=18, label_height=18, label_standoff=so, padding=pad,
                  spacing=0, margin=0, label_text_font=font, label_text_font_size="%gpx" % fs,
                  border_line_width=1, background_fill_alpha=1.0)
    shadow = Legend(items=[LegendItem(label=lab, renderers=[r]) for lab, r in rends], location=(x + 3, y - 3),
                    background_fill_color="black", border_line_color="black", label_text_color=None, **common)
    main = Legend(items=[LegendItem(label=lab, renderers=[r]) for lab, r in rends], location=(x, y),
                  background_fill_color="white", border_line_color="black", label_text_color="black", **common)
    p.add_layout(shadow)
    p.add_layout(main)


rL = 881
add_legend(rL, 294, [("LER", "line", RED, 1.5), ("HER", "line", BLUE, 1.5)], 39, 8)
add_legend(rL, 339, [("LER", "line", PINK, 1.5)], 39, 6, fs=26, font=NARROW, cw=13.7)
add_legend(rL, 407, [("QMD11P_1(nC)", "dot", QBLUE, 6), ("QMD11P_2(nC)", "dot", QGREEN, 6)], 8, 21)
add_legend(rL, 446, [("Inj.Rate", "dot", PURPLE, 6)], 8, 21)
add_legend(rL, 562, [("ECL_BW", "line", ECLG, 1.5)], 40, 5)
add_legend(rL, 537, [("Inj.Eff(BCM1)", "dot", "black", 6), ("Inj.Eff(BCM2)", "dot", "#909090", 6),
                     ("Inj.Eff", "none", None, 0)], 4, 17)
add_legend(rL, 651, [("ECL BG\nDuration", "line", TOMATO, 1.5)], 39, 5)
add_legend(rL, 722, [("TOP [Hz]", "line", TOPB, 1.5)], 39, 5)
add_legend(rL, 821, [("CDC", "line", CDCL, 1.5), ("CDC_av", "line", CDCD, 1.5)], 40, 5)
add_legend(rL, 882, [("Diamond", "line", VIOLET, 1.5)], 38, 7)
add_legend(rL, 982, [("VXD_FW225", "line", BLUE, 1.5), ("VXD_FW135", "line", RED, 1.5)], 38, 7)

rR = 1783
add_legend(rR, 175, [("LER", "line", RED, 1.5), ("HER", "line", BLUE, 1.5)], 39, 8)
add_legend(rR, 223, [("HER", "line", HERREP, 1.5)], 39, 6, fs=26, font=NARROW, cw=13.7)
add_legend(rR, 293, [("QMD8E_1(nC)", "dot", QBLUE, 6), ("QMD8E_2(nC)", "dot", QGREEN, 6)], 8, 21)
add_legend(rR, 336, [("Inj.Rate", "dot", PURPLE, 6)], 8, 21)
add_legend(rR, 459, [("ECL_FW", "line", ECLG, 1.5)], 40, 5)
add_legend(rR, 431, [("Inj.Eff(BCM1)", "dot", "black", 6), ("Inj.Eff(BCM2)", "dot", "#909090", 6),
                     ("Inj.Eff", "none", None, 0)], 4, 17)
add_legend(rR, 553, [("ECL BG\nDuration", "line", TOMATO, 1.5)], 39, 5)
add_legend(rR, 647, [("SR_FW", "line", ORANGE, 1.5), ("SR_BW", "line", RED, 1.5)], 39, 8)
add_legend(rR, 713, [("TOP [Hz]", "line", TOPB, 1.5)], 39, 5)
add_legend(rR, 817, [("CDC", "line", CDCL, 1.5), ("CDC_av", "line", CDCD, 1.5)], 40, 5)
add_legend(rR, 885, [("Diamond", "line", VIOLET, 1.5)], 38, 7)
add_legend(rR, 988, [("VXD_BW180", "line", RED, 1.5), ("VXD_BW270", "line", BLUE, 1.5)], 38, 7)

with open("out.html", "w", encoding="utf-8") as fh:
    fh.write(file_html(p, INLINE))
